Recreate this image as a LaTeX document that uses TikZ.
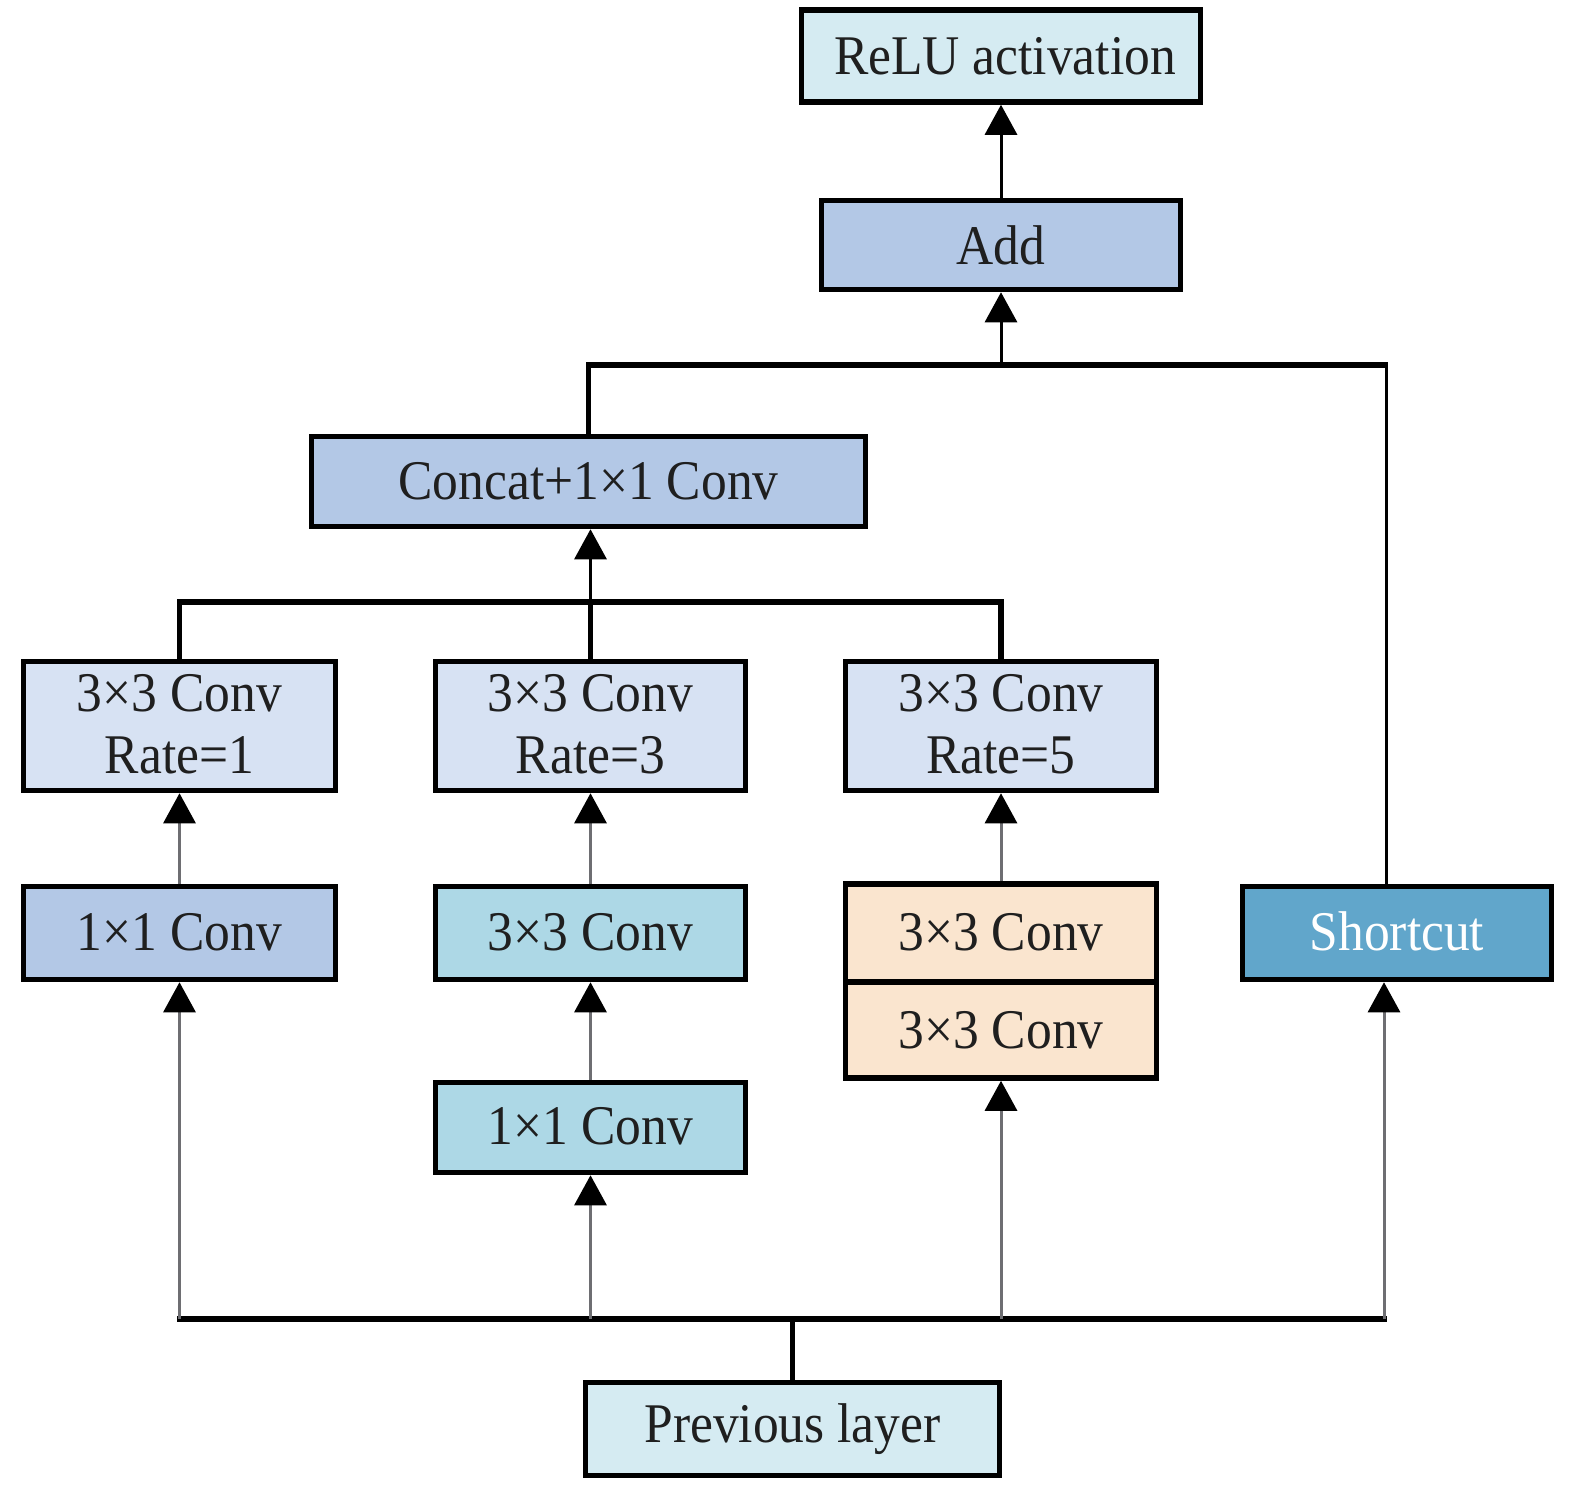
\documentclass[tikz,border=0pt]{standalone}
\usepackage{fontspec}
\setmainfont{Liberation Serif}[FakeStretch=0.92]
\usetikzlibrary{arrows.meta,calc}
\definecolor{cLight}{HTML}{D5EBF2}
\definecolor{cBlue}{HTML}{B3C8E6}
\definecolor{cRate}{HTML}{D7E2F3}
\definecolor{cCyan}{HTML}{ADD8E6}
\definecolor{cOrange}{HTML}{FAE5CF}
\definecolor{cShort}{HTML}{61A6CB}
\definecolor{cLine}{HTML}{6E6E72}
\begin{document}
\begin{tikzpicture}[x=1pt,y=-1pt,
  box/.style={draw=black,line width=5.5pt,rectangle,inner sep=0pt,align=center,
    font=\fontsize{56}{62}\selectfont,text=black!88},
  bline/.style={line width=5.5pt,draw=black},
  garrow/.style={line width=3pt,draw=cLine,-{Triangle[width=32pt,length=30pt,color=black]}},
  karrow/.style={line width=3pt,draw=black,-{Triangle[width=32pt,length=30pt,color=black]}}]
\useasboundingbox (0,0) rectangle (1575,1486);
% nodes
\node[box,fill=cLight,minimum width=399pt,minimum height=92pt] (relu) at (1001,56) {\hspace*{8pt}ReLU activation};
\node[box,fill=cBlue,minimum width=359pt,minimum height=89pt] (add) at (1001,245) {Add};
\node[box,fill=cBlue,minimum width=554pt,minimum height=90pt] (concat) at (588.5,481.5) {Concat+1×1 Conv};
\node[box,fill=cRate,minimum width=312pt,minimum height=129pt] (r1) at (179.5,726) {\raisebox{4pt}{3×3 Conv}\\\raisebox{4pt}{Rate=1}};
\node[box,fill=cRate,minimum width=310pt,minimum height=129pt] (r3) at (590.5,726) {\raisebox{4pt}{3×3 Conv}\\\raisebox{4pt}{Rate=3}};
\node[box,fill=cRate,minimum width=311pt,minimum height=129pt] (r5) at (1001,726) {\raisebox{4pt}{3×3 Conv}\\\raisebox{4pt}{Rate=5}};
\node[box,fill=cBlue,minimum width=312pt,minimum height=93pt] (c11) at (179.5,933) {\raisebox{3pt}{1×1 Conv}};
\node[box,fill=cCyan,minimum width=310pt,minimum height=93pt] (c33) at (590.5,933) {\raisebox{3pt}{3×3 Conv}};
\node[box,fill=cOrange,minimum width=311pt,minimum height=98pt] (o1) at (1001,933) {\raisebox{3pt}{3×3 Conv}};
\node[box,fill=cOrange,minimum width=311pt,minimum height=96pt] (o2) at (1001,1030) {3×3 Conv};
\node[box,fill=cShort,minimum width=309pt,minimum height=93pt,text=white] (sc) at (1397,933) {\raisebox{3pt}{Shortcut}};
\node[box,fill=cCyan,minimum width=310pt,minimum height=90pt] (c11b) at (590.5,1127.5) {\raisebox{3pt}{1×1 Conv}};
\node[box,fill=cLight,minimum width=414pt,minimum height=93pt] (prev) at (792.5,1429) {\raisebox{3pt}{Previous layer}};
% bus coordinates
\coordinate (bL) at (179.5,1319);
\coordinate (bR) at (1384,1319);
\coordinate (mY) at (0,602);
\coordinate (tY) at (0,365);
\coordinate (tR) at (1386,365);
% bottom bus
\draw[bline] (prev.north) -- (prev.north |- bL);
\draw[bline] ([xshift=-2.5pt]bL) -- ([xshift=2.5pt]bR);
\draw[garrow] (bL) -- (c11.south);
\draw[garrow] (c11b.south |- bL) -- (c11b.south);
\draw[garrow] (o2.south |- bL) -- (o2.south);
\draw[garrow] (bR) -- (bR |- sc.south);
% middle arrows
\draw[garrow] (c11b.north) -- (c33.south);
\draw[garrow] (c11.north) -- (r1.south);
\draw[garrow] (c33.north) -- (r3.south);
\draw[garrow] (o1.north) -- (r5.south);
% rate bus
\draw[bline] (r1.north) -- (r1.north |- mY) -- (r5.north |- mY) -- (r5.north);
\draw[bline] (r3.north) -- (r3.north |- mY);
\draw[karrow] (r3.north |- mY) -- (r3.north |- concat.south);
% top bus
\draw[bline] (concat.north) -- (concat.north |- tY) -- ([xshift=1.5pt]tR);
\draw[line width=3pt,draw=black] (tR) -- (tR |- sc.north);
\draw[karrow] (add.south |- tY) -- (add.south);
\draw[karrow] (add.north) -- (relu.south);
\end{tikzpicture}
\end{document}
